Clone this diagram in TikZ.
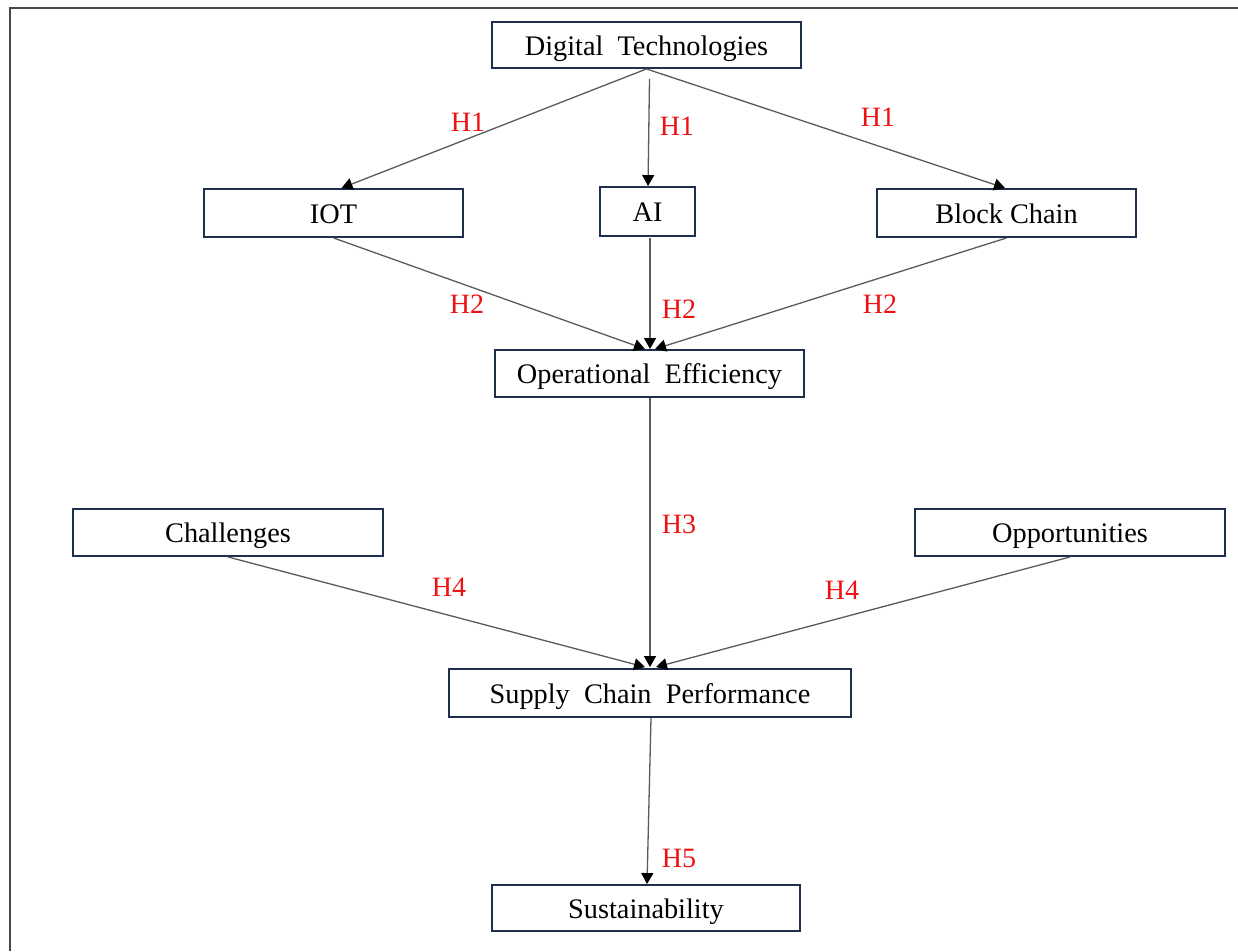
\documentclass[tikz,border=0pt]{standalone}
\usepackage{fontspec}
\setmainfont{Liberation Serif}
\usetikzlibrary{arrows.meta,calc}
\definecolor{boxline}{HTML}{1F2F4F}
\definecolor{conn}{HTML}{5A5A5A}
\definecolor{hred}{HTML}{EE1111}
\begin{document}
\begin{tikzpicture}[x=1pt,y=-1pt,
  box/.style={draw=boxline,line width=1.9pt,fill=white,inner sep=0pt,
    text height=20pt,text depth=0pt,
    minimum height=47pt,font=\fontsize{28.3}{32}\selectfont},
  conn/.style={draw=conn,line width=1.3pt,
    -{Triangle[length=11pt,width=12pt,color=black]}},
  hyp/.style={text=hred,inner sep=0pt,font=\fontsize{28}{32}\selectfont}]
\useasboundingbox (0,0) rectangle (1238,951);
\draw[line width=2pt,color=conn!80!black] (1238,8) -- (10,8) -- (10,951);

\node[box,minimum width=309pt,minimum height=46pt] (dt) at (646.5,45) {Digital\ \ Technologies};
\node[box,minimum width=259pt,minimum height=48pt] (iot) at (333.5,213) {IOT};
\node[box,minimum width=95pt,minimum height=49pt] (ai) at (647.5,211.5) {AI};
\node[box,minimum width=259pt,minimum height=48pt] (bc) at (1006.5,213) {Block Chain};
\node[box,minimum width=309pt] (oe) at (649.5,373.5) {Operational\ \ Efficiency};
\node[box,minimum width=310pt] (ch) at (228,532.5) {Challenges};
\node[box,minimum width=310pt] (op) at (1070,532.5) {Opportunities};
\node[box,minimum width=402pt,minimum height=48pt] (scp) at (650,693) {Supply\ \ Chain\ \ Performance};
\node[box,minimum width=308pt,minimum height=46pt] (su) at (646,908) {Sustainability};

\draw[conn] (dt.south) -- ($(iot.north)+(8,0)$);
\draw[conn] ($(dt.south)+(3,10)$) -- ($(ai.north)+(0.5,0)$);
\draw[conn] (dt.south) -- ($(bc.north)+(-1.5,0)$);
\draw[conn] (iot.south) -- ($(oe.north)+(-4.5,0)$);
\draw[conn] ($(ai.south)+(2.5,1)$) -- ($(oe.north)+(0.5,0)$);
\draw[conn] (bc.south) -- ($(oe.north)+(5.5,0)$);
\draw[conn] ($(oe.south)+(0.5,0)$) -- ($(scp.north)+(0,-1)$);
\draw[conn] (ch.south) -- ($(scp.north)+(-5,-1)$);
\draw[conn] (op.south) -- ($(scp.north)+(6,-1)$);
\draw[conn] ($(scp.south)+(1,0)$) -- ($(su.north)+(1,0)$);

\node[hyp] (h1a) at (468,122) {H1};
\node[hyp] (h1b) at (677,126) {H1};
\node[hyp] (h1c) at (878,117) {H1};
\node[hyp] (h2a) at (467,304) {H2};
\node[hyp] (h2b) at (679,309) {H2};
\node[hyp] (h2c) at (880,304) {H2};
\node[hyp] (h3) at (679,524) {H3};
\node[hyp] (h4a) at (449,587) {H4};
\node[hyp] (h4b) at (842,590) {H4};
\node[hyp] (h5) at (679,858) {H5};
\end{tikzpicture}
\end{document}
